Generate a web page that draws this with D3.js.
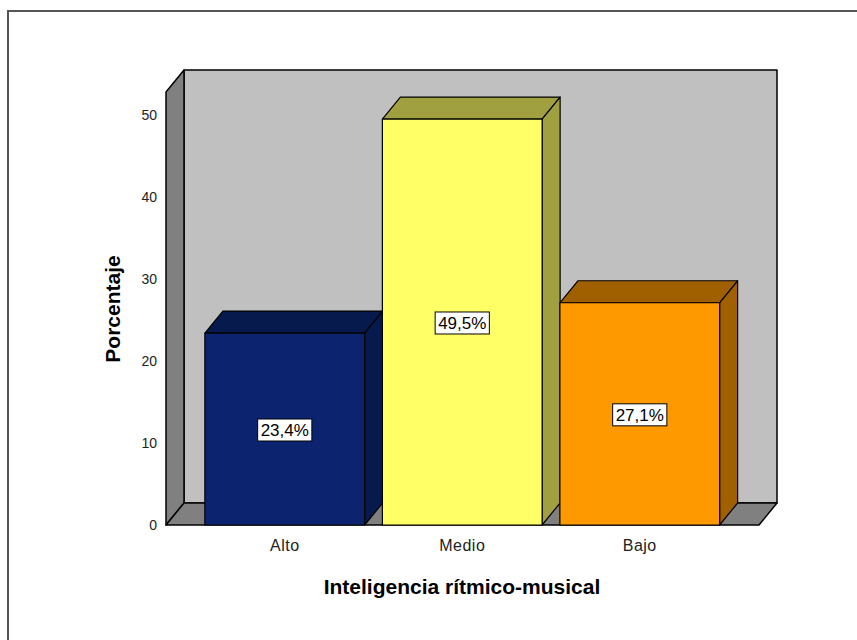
<!DOCTYPE html>
<html lang="es">
<head>
<meta charset="UTF-8">
<title>Inteligencia rítmico-musical</title>
<script src="https://d3js.org/d3.v7.min.js"></script>
<style>
  body { margin: 0; background: #fff; }
  svg { font-family: "Liberation Sans", Arial, sans-serif; }
  .tick text { font-size: 14px; fill: #222; }
</style>
</head>
<body>
<svg id="chart" width="857" height="640"></svg>
<script>
// data
const categories = ["Alto", "Medio", "Bajo"];
const percents = [23.4, 49.5, 27.1];
const labels = ["23,4%", "49,5%", "27,1%"];
const yTicks = [0, 10, 20, 30, 40, 50];

const frontColors = ["#0c2470", "#ffff66", "#ff9900"];
const sideColors = ["#071a4d", "#a0a040", "#a06000"];

const svg = d3.select("#chart");

// outer frame
svg.append("rect")
    .attr("x", 8).attr("y", 11)
    .attr("width", 900).attr("height", 700)
    .style("fill", "none")
    .style("stroke", "#555")
    .style("stroke-width", 2);

const dx = 18, dy = 22;         // 3d depth offset
const x0 = 166, x1 = 759;       // front floor left/right

const y = d3.scaleLinear().domain([0, 52.8]).range([525, 92]);
const x = d3.scaleBand()
    .domain(categories)
    .range([196, 728.5])
    .paddingInner(0.1)
    .paddingOuter(0.05);

const pts = a => a.map(p => p.join(",")).join(" ");
const y0 = y(0), yTop = y(52.8);

const wall = svg.append("g").style("stroke", "#000").style("stroke-width", 1.5)
    .style("stroke-linejoin", "round");

// back wall
wall.append("polygon")
    .attr("points", pts([[x0 + dx, yTop - dy], [x1 + dx, yTop - dy], [x1 + dx, y0 - dy], [x0 + dx, y0 - dy]]))
    .style("fill", "#c0c0c0");
// left wall
wall.append("polygon")
    .attr("points", pts([[x0, yTop], [x0 + dx, yTop - dy], [x0 + dx, y0 - dy], [x0, y0]]))
    .style("fill", "#808080");
// floor
wall.append("polygon")
    .attr("points", pts([[x0, y0], [x0 + dx, y0 - dy], [x1 + dx, y0 - dy], [x1, y0]]))
    .style("fill", "#808080");

// bars
const bars = svg.append("g").selectAll("g")
    .data(categories)
    .join("g")
    .style("stroke", "#000")
    .style("stroke-width", 1.2)
    .style("stroke-linejoin", "round");

bars.append("polygon") // top
    .attr("points", (d, i) => {
        const l = x(d), r = x(d) + x.bandwidth(), t = y(percents[i]);
        return pts([[l, t], [l + dx, t - dy], [r + dx, t - dy], [r, t]]);
    })
    .style("fill", (d, i) => sideColors[i]);

bars.append("polygon") // side
    .attr("points", (d, i) => {
        const r = x(d) + x.bandwidth(), t = y(percents[i]);
        return pts([[r, t], [r + dx, t - dy], [r + dx, y0 - dy], [r, y0]]);
    })
    .style("fill", (d, i) => sideColors[i]);

bars.append("rect") // front
    .attr("x", d => x(d))
    .attr("y", (d, i) => y(percents[i]))
    .attr("width", x.bandwidth())
    .attr("height", (d, i) => y0 - y(percents[i]))
    .style("fill", (d, i) => frontColors[i]);

// value labels
const lab = svg.append("g").selectAll("g")
    .data(categories)
    .join("g")
    .attr("transform", (d, i) => "translate(" + (x(d) + x.bandwidth() / 2) + "," + ((y0 + y(percents[i])) / 2 + 1) + ")");

lab.append("text")
    .attr("text-anchor", "middle")
    .attr("dy", "0.35em")
    .style("font-size", "17px")
    .style("fill", "#000")
    .text((d, i) => labels[i]);

lab.each(function () {
    const g = d3.select(this);
    const bb = g.select("text").node().getBBox();
    g.insert("rect", "text")
        .attr("x", bb.x - 3).attr("y", bb.y - 2)
        .attr("width", bb.width + 6).attr("height", bb.height + 3)
        .style("fill", "#fff")
        .style("stroke", "#000")
        .style("stroke-width", 1);
});

// y axis
const yAxis = svg.append("g")
    .attr("transform", "translate(" + x0 + ",0)")
    .call(d3.axisLeft(y).tickValues(yTicks).tickSize(0).tickPadding(9));
yAxis.select(".domain").remove();

// x axis labels
const xAxis = svg.append("g")
    .attr("transform", "translate(0," + y0 + ")")
    .call(d3.axisBottom(x).tickSize(0).tickPadding(15));
xAxis.select(".domain").remove();
xAxis.selectAll(".tick text").style("font-size", "16px").style("letter-spacing", "0.5px");

// axis titles
svg.append("text")
    .attr("transform", "translate(120,309) rotate(-90)")
    .attr("text-anchor", "middle")
    .style("font-size", "21px")
    .style("font-weight", "bold")
    .text("Porcentaje");

svg.append("text")
    .attr("x", 462).attr("y", 594)
    .attr("text-anchor", "middle")
    .style("font-size", "21px")
    .style("font-weight", "bold")
    .text("Inteligencia rítmico-musical");
</script>
</body>
</html>
